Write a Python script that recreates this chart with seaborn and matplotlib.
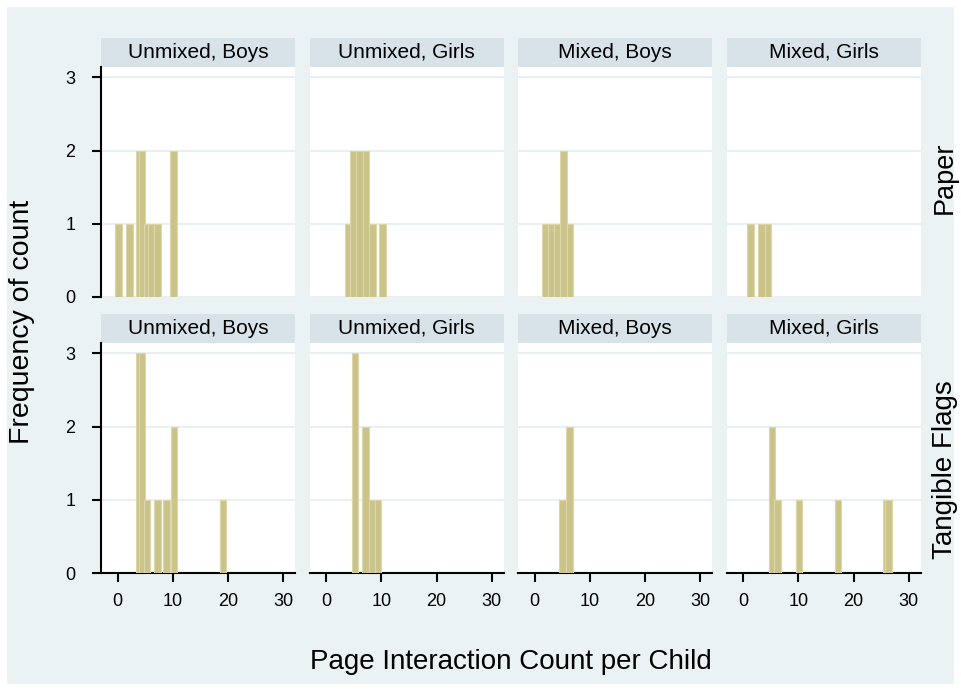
import matplotlib
matplotlib.use("Agg")
import matplotlib.pyplot as plt
from matplotlib.patches import Rectangle
import pandas as pd
import seaborn as sns

# ---- data -------------------------------------------------------------
materials = ["Paper", "Tangible Flags"]
groups = ["Unmixed, Boys", "Unmixed, Girls", "Mixed, Boys", "Mixed, Girls"]
x_ticks = [0, 10, 20, 30]
y_ticks = [0, 1, 2, 3]

# interaction count (bar position) and frequency for each panel
paper_unmixed_boys_x = [0.2, 2.1, 4.0, 4.45, 5.3, 6.1, 7.2, 10.1]
paper_unmixed_boys_n = [1, 1, 2, 2, 1, 1, 1, 2]
paper_unmixed_girls_x = [3.95, 5.0, 6.1, 7.2, 8.4, 10.2]
paper_unmixed_girls_n = [1, 2, 2, 2, 1, 1]
paper_mixed_boys_x = [2.0, 3.1, 4.1, 5.2, 6.4]
paper_mixed_boys_n = [1, 1, 1, 2, 1]
paper_mixed_girls_x = [1.3, 3.3, 4.5]
paper_mixed_girls_n = [1, 1, 1]

flags_unmixed_boys_x = [4.0, 4.45, 5.3, 7.2, 8.9, 10.2, 19.05]
flags_unmixed_boys_n = [3, 3, 1, 1, 1, 2, 1]
flags_unmixed_girls_x = [5.2, 7.1, 8.4, 9.4]
flags_unmixed_girls_n = [3, 2, 1, 1]
flags_mixed_boys_x = [5.1, 6.3]
flags_mixed_boys_n = [1, 2]
flags_mixed_girls_x = [5.2, 6.2, 10.15, 17.2, 25.85, 26.35]
flags_mixed_girls_n = [2, 1, 1, 1, 1, 1]

panels = {
    ("Paper", "Unmixed, Boys"): (paper_unmixed_boys_x, paper_unmixed_boys_n),
    ("Paper", "Unmixed, Girls"): (paper_unmixed_girls_x, paper_unmixed_girls_n),
    ("Paper", "Mixed, Boys"): (paper_mixed_boys_x, paper_mixed_boys_n),
    ("Paper", "Mixed, Girls"): (paper_mixed_girls_x, paper_mixed_girls_n),
    ("Tangible Flags", "Unmixed, Boys"): (flags_unmixed_boys_x, flags_unmixed_boys_n),
    ("Tangible Flags", "Unmixed, Girls"): (flags_unmixed_girls_x, flags_unmixed_girls_n),
    ("Tangible Flags", "Mixed, Boys"): (flags_mixed_boys_x, flags_mixed_boys_n),
    ("Tangible Flags", "Mixed, Girls"): (flags_mixed_girls_x, flags_mixed_girls_n),
}

rows = []
for (mat, grp), (xs, ns) in panels.items():
    for x, n in zip(xs, ns):
        rows.append({"material": mat, "group": grp, "count": x, "freq": n})
df = pd.DataFrame(rows)

# ---- style ------------------------------------------------------------
BG = "#EAF2F3"
STRIP = "#D7E3E9"
GRID = "#E8F0F2"
BAR_FILL = "#CBC48A"
BAR_EDGE = "#DDD6AA"

sns.set_style("white")
plt.rcParams["font.family"] = ["Liberation Sans", "DejaVu Sans"]
plt.rcParams["text.color"] = "black"
plt.rcParams["axes.labelcolor"] = "black"
plt.rcParams["xtick.color"] = "black"
plt.rcParams["ytick.color"] = "black"
plt.rcParams["xtick.labelcolor"] = "black"
plt.rcParams["ytick.labelcolor"] = "black"

W, H = 961, 691


def draw_bars(data, **kws):
    ax = plt.gca()
    ax.bar(data["count"], data["freq"], width=1.2, color=BAR_FILL,
           edgecolor=BAR_EDGE, linewidth=0.8, zorder=3)


g = sns.FacetGrid(df, row="material", col="group", row_order=materials,
                  col_order=groups, sharex=True, sharey=True,
                  height=2.3, aspect=0.84, despine=False)
g.map_dataframe(draw_bars)
g.set_titles("")
g.set_axis_labels("", "")

fig = g.figure
fig.set_size_inches(W / 100, H / 100)
fig.set_facecolor("white")

# outer graph region
fig.patches.append(Rectangle((7 / W, 7 / H), 1 - 14 / W, 1 - 14 / H,
                             transform=fig.transFigure, facecolor=BG,
                             edgecolor="none", zorder=-10))

col_left = [101, 309.5, 518, 726.5]
col_w = 194
row_top = [67, 343]
row_h = 230
strip_h = 29

for r, mat in enumerate(materials):
    for c, grp in enumerate(groups):
        ax = g.axes[r, c]
        ax.set_position([col_left[c] / W, (H - row_top[r] - row_h) / H,
                         col_w / W, row_h / H])
        ax.set_facecolor("white")
        ax.set_xlim(-3.0, 32.1)
        ax.set_ylim(0, 3.14)
        ax.set_xticks(x_ticks)
        ax.set_yticks(y_ticks)
        ax.yaxis.grid(True, color=GRID, linewidth=1.5, zorder=0)
        ax.xaxis.grid(False)
        ax.set_axisbelow(True)
        for s in ax.spines.values():
            s.set_visible(False)

        # y axis only in the first column
        if c == 0:
            ax.spines["left"].set_visible(True)
            ax.spines["left"].set_color("black")
            ax.spines["left"].set_linewidth(1.5)
            ax.tick_params(axis="y", left=True, labelleft=True, length=6.5,
                           width=1.5, color="black", labelcolor="black",
                           pad=12, labelsize=13)
        else:
            ax.tick_params(axis="y", left=False, labelleft=False)

        # x axis only in the bottom row
        if r == 1:
            ax.spines["bottom"].set_visible(True)
            ax.spines["bottom"].set_color("black")
            ax.spines["bottom"].set_linewidth(1.5)
            ax.tick_params(axis="x", bottom=True, labelbottom=True, length=6.5,
                           width=1.5, color="black", labelcolor="black",
                           pad=8, labelsize=13)
        else:
            ax.tick_params(axis="x", bottom=False, labelbottom=False)

        # facet title band
        hfrac = strip_h / row_h
        ax.add_patch(Rectangle((0, 1.0), 1, hfrac, transform=ax.transAxes,
                               facecolor=STRIP, edgecolor="none",
                               clip_on=False, zorder=1))
        ax.text(0.5, 1.0 + hfrac / 2, grp, transform=ax.transAxes,
                ha="center", va="center", fontsize=15, color="black")

# row labels on the right
fig.text(945 / W, 1 - 178 / H, "Paper", rotation=90, ha="center",
         va="center", fontsize=19.5)
fig.text(945 / W, 1 - 470 / H, "Tangible Flags", rotation=90, ha="center",
         va="center", fontsize=20)

# axis titles
fig.text(511 / W, 1 - 662 / H, "Page Interaction Count per Child",
         ha="center", va="center", fontsize=20)
fig.text(22 / W, 1 - 322 / H, "Frequency of count", rotation=90,
         ha="center", va="center", fontsize=20.5)

fig.savefig("out.png", dpi=100, facecolor=fig.get_facecolor())
